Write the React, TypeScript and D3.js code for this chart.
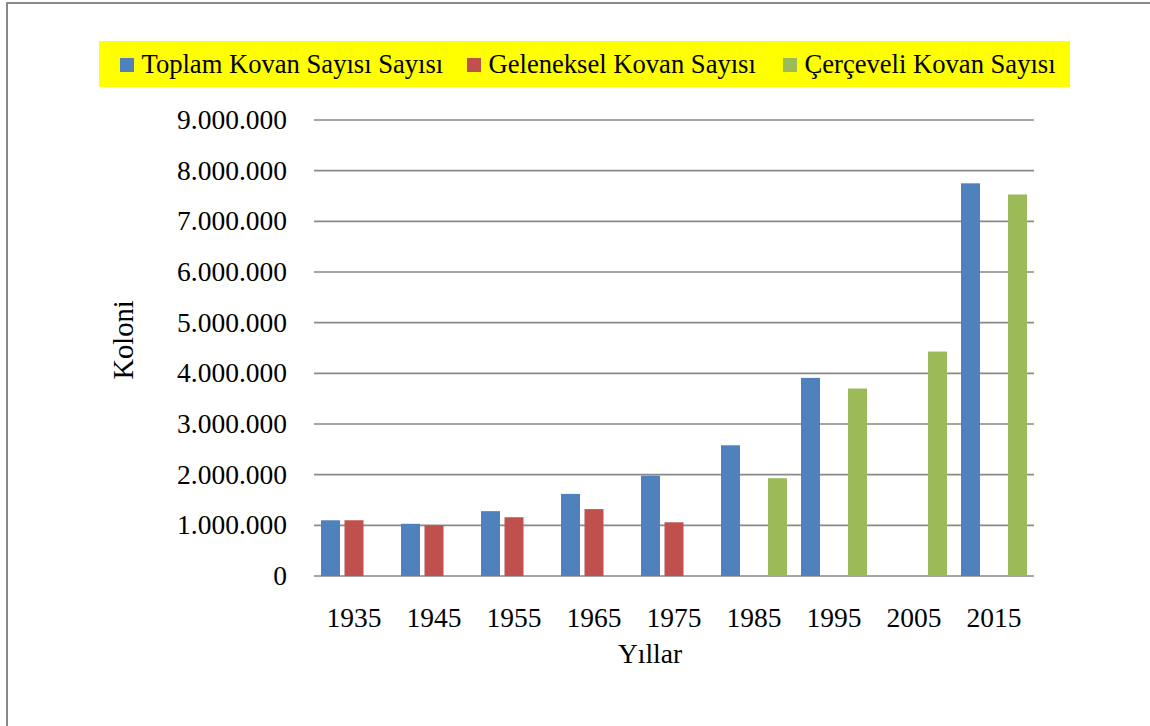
import React from "react";
import * as d3 from "d3";

const years = ["1935", "1945", "1955", "1965", "1975", "1985", "1995", "2005", "2015"];
const toplam: (number | null)[] = [1100000, 1030000, 1280000, 1620000, 1980000, 2580000, 3910000, null, 7750000];
const geleneksel: (number | null)[] = [1100000, 1000000, 1160000, 1320000, 1060000, null, null, null, null];
const cerceveli: (number | null)[] = [null, null, null, null, null, 1930000, 3700000, 4430000, 7530000];
const seriesNames = ["Toplam Kovan Sayısı Sayısı", "Geleneksel Kovan Sayısı", "Çerçeveli Kovan Sayısı"];
const seriesColors = ["#4F81BD", "#C0504D", "#9BBB59"];
const yTicks = [0, 1000000, 2000000, 3000000, 4000000, 5000000, 6000000, 7000000, 8000000, 9000000];

const W = 1150;
const H = 726;
const FONT = "'Liberation Serif', 'Times New Roman', serif";

export default function App() {
  const seriesValues = [toplam, geleneksel, cerceveli];
  const left = 314, right = 1034, top = 120, bottom = 576;

  const x0 = d3.scaleBand<string>().domain(years).range([left, right]).paddingInner(0.175).paddingOuter(0.0875);
  const x1 = d3.scaleBand<number>().domain([0, 1, 2]).range([0, x0.bandwidth()]).paddingInner(0.1915).paddingOuter(0);
  const y = d3.scaleLinear().domain([0, 9000000]).range([bottom, top]);
  const locale = d3.formatLocale({ decimal: ",", thousands: ".", grouping: [3], currency: ["", ""] });
  const fmt = locale.format(",.0f");

  const legendX = [120, 467, 783];

  return (
    <svg width={W} height={H} style={{ position: "absolute", left: 0, top: 0, background: "#fff" }} fontFamily={FONT}>
      <rect x={0} y={0} width={W} height={H} fill="#fff" />
      {/* outer frame */}
      <path d={`M7,${H} L7,3 L${W},3`} fill="none" stroke="#898989" strokeWidth={2} />

      {/* legend */}
      <rect x={99} y={41} width={971} height={46} fill="#FFFF00" />
      {seriesNames.map((n, i) => (
        <g key={n}>
          <rect x={legendX[i]} y={58} width={14} height={14} fill={seriesColors[i]} />
          <text x={legendX[i] + 21.5} y={73} fontSize={26.6} fill="#000">{n}</text>
        </g>
      ))}

      {/* gridlines */}
      {yTicks.map((t) => (
        <g key={t}>
          <line x1={left} x2={right} y1={y(t)} y2={y(t)} stroke="#898989" strokeWidth={1.6} />
          <text x={287} y={y(t) + 9} textAnchor="end" fontSize={27.5} fill="#000">{fmt(t)}</text>
        </g>
      ))}

      {/* bars */}
      {seriesValues.map((vals, si) =>
        vals.map((v, ci) =>
          v == null ? null : (
            <rect
              key={`${si}-${ci}`}
              x={(x0(years[ci]) as number) + (x1(si) as number)}
              y={y(v)}
              width={x1.bandwidth()}
              height={y(0) - y(v)}
              fill={seriesColors[si]}
            />
          )
        )
      )}

      {/* x labels */}
      {years.map((yr) => (
        <text key={yr} x={(x0(yr) as number) + x0.bandwidth() / 2} y={626.5} textAnchor="middle" fontSize={27.5} fill="#000">
          {yr}
        </text>
      ))}

      {/* axis titles */}
      <text x={650} y={663} textAnchor="middle" fontSize={27.5} fill="#000">Yıllar</text>
      <text transform="translate(133,340) rotate(-90)" textAnchor="middle" fontSize={28.5} fill="#000">Koloni</text>
    </svg>
  );
}
